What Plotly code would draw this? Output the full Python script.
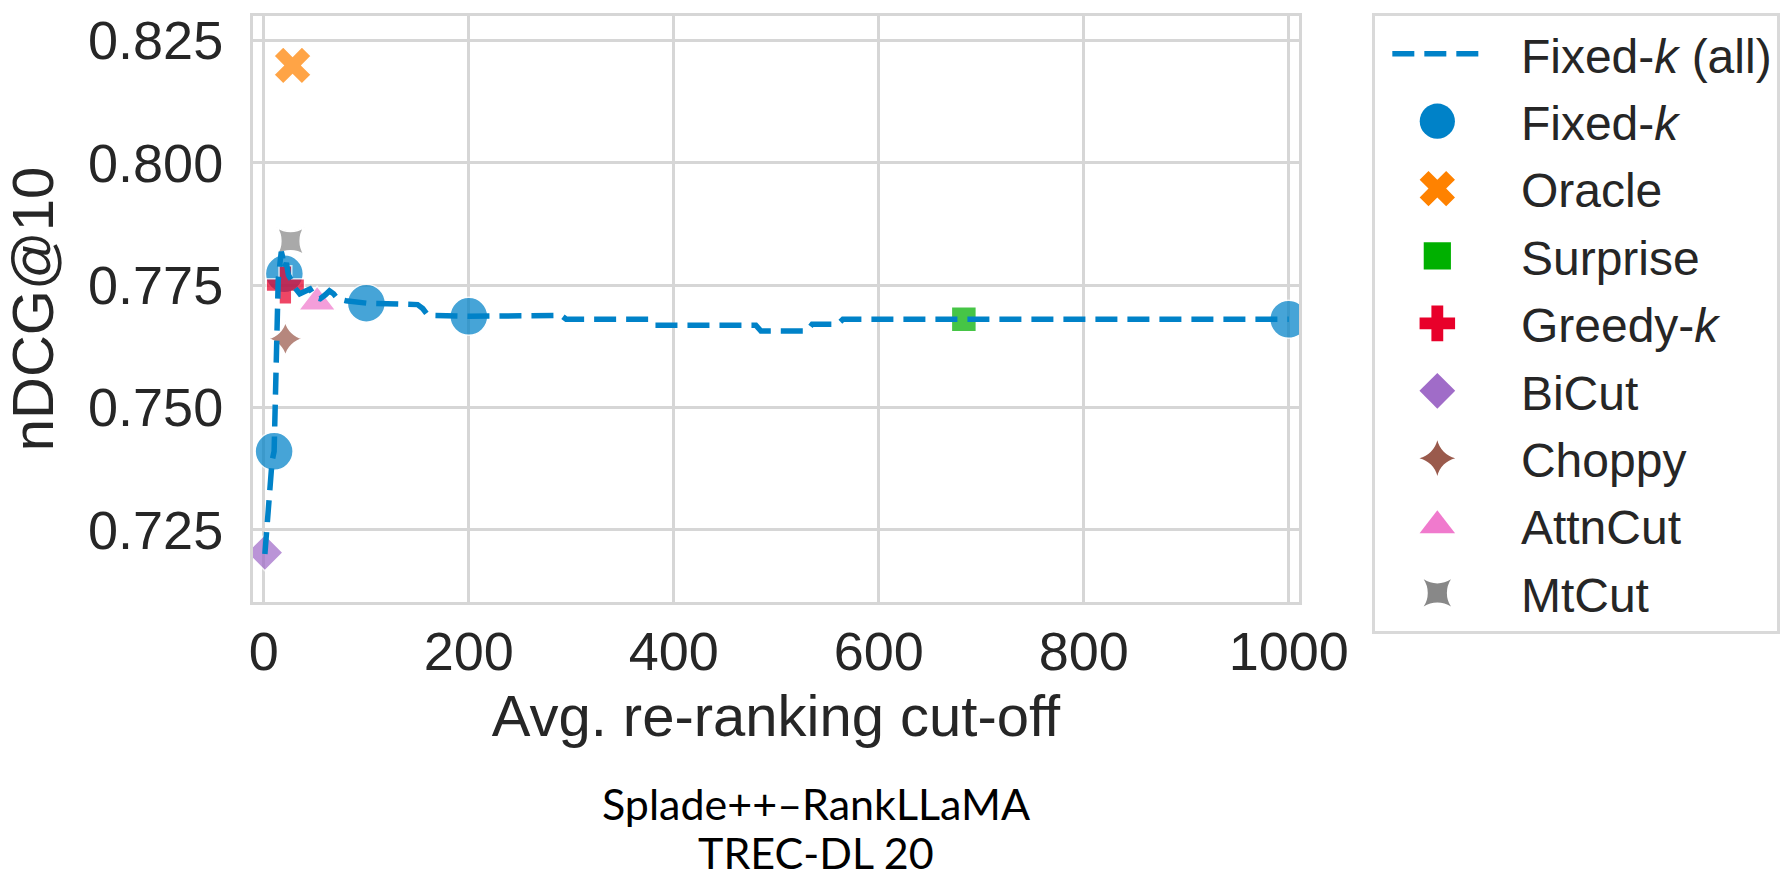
import json
import plotly.graph_objects as go

# Fixed-k sweep over every cut-off (dashed curve)
fixed_all_k = [1, 2, 4, 6, 8, 10, 12, 13, 14, 16, 17, 18, 20, 22, 24, 27, 30, 35, 40, 45,
               50, 55, 60, 64, 68, 72, 80, 100, 150, 155, 160, 200, 290, 295, 375, 380,
               480, 485, 530, 535, 560, 565, 1000]
fixed_all_ndcg = [0.7200, 0.7230, 0.7290, 0.7350, 0.7390, 0.7410, 0.7560, 0.7700, 0.7760,
                  0.7800, 0.7818, 0.7810, 0.7785, 0.7795, 0.7770, 0.7760, 0.7745, 0.7732,
                  0.7738, 0.7742, 0.7725, 0.7722, 0.7730, 0.7738, 0.7732, 0.7722, 0.7718,
                  0.7713, 0.7710, 0.7702, 0.7688, 0.7686, 0.7688, 0.7680, 0.7680, 0.7668,
                  0.7668, 0.7656, 0.7656, 0.7670, 0.7670, 0.7680, 0.7680]

# Selected fixed cut-offs
fixed_k = [10, 20, 100, 200, 1000]
fixed_ndcg = [0.7410, 0.7773, 0.7713, 0.7686, 0.7680]

# Adaptive cut-off methods: (avg. cut-off, nDCG@10)
oracle_k, oracle_ndcg = [28], [0.8199]
surprise_k, surprise_ndcg = [683], [0.7680]
greedy_k, greedy_ndcg = [21], [0.7750]
bicut_k, bicut_ndcg = [1], [0.7203]
choppy_k, choppy_ndcg = [21], [0.7640]
attncut_k, attncut_ndcg = [52], [0.7715]
mtcut_k, mtcut_ndcg = [26], [0.7840]

# Caption lines under the chart
caption_lines = ["Splade++–RankLLaMA", "TREC-DL 20"]

SP = "\u2002\u2009"
FONT = "Liberation Sans, Arial, sans-serif"
TXT = "#262626"
GRID = "#d6d6d6"
ALPHA = 0.72

methods = [
    # name, x, y, color, symbol, size, legend scale
    ("Fixed-<i>k</i>", fixed_k, fixed_ndcg, "#0082c8", "circle", 38, 2.2),
    ("Oracle", oracle_k, oracle_ndcg, "#ff8200", "x", 33, 1.95),
    ("Surprise", surprise_k, surprise_ndcg, "#00b000", "square", 25, 1.7),
    ("Greedy-<i>k</i>", greedy_k, greedy_ndcg, "#e8002a", "cross", 32, 1.85),
    ("BiCut", bicut_k, bicut_ndcg, "#a06cc8", "diamond", 28, 1.72),
    ("Choppy", choppy_k, choppy_ndcg, "#9a5a4c", "star-diamond", 25, 1.6),
    ("AttnCut", attncut_k, attncut_ndcg, "#f07acd", "triangle-up", 32, 1.92),
    ("MtCut", mtcut_k, mtcut_ndcg, "#888888", "star-square", 25, 1.55),
]

fig = go.Figure()
legend_scales = {}
for rank, (name, xs, ys, color, symbol, size, lscale) in enumerate(methods, start=2):
    fig.add_trace(go.Scatter(
        x=xs, y=ys, mode="markers", name=SP + name, legendrank=rank,
        legendgroup="g%d" % rank,
        marker=dict(color=color, symbol=symbol, size=size, opacity=ALPHA,
                    line=dict(color="white", width=1.5)),
    ))
    legend_scales[name.replace("<i>", "").replace("</i>", "")] = lscale

# dashed curve drawn on top of the markers, listed first in the legend
fig.add_trace(go.Scatter(
    x=fixed_all_k, y=fixed_all_ndcg, mode="lines", name=SP + "Fixed-<i>k</i> (all)",
    legendrank=1, legendgroup="g1",
    line=dict(color="#0082c8", width=5.5, dash="22px,10px"),
))

axis_common = dict(
    showgrid=True, gridcolor=GRID, gridwidth=3,
    showline=True, linecolor=GRID, linewidth=3, mirror=True,
    zeroline=False, ticks="",
    tickfont=dict(family=FONT, size=54, color=TXT),
)

fig.update_xaxes(
    range=[-10.6, 1010], tickmode="array", tickvals=[0, 200, 400, 600, 800, 1000],
    title=dict(text="Avg. re-ranking cut-off", font=dict(family=FONT, size=58, color=TXT),
               standoff=16),
    ticklabelstandoff=0, **axis_common,
)
fig.update_yaxes(
    range=[0.7102, 0.8300], tickmode="array",
    tickvals=[0.725, 0.750, 0.775, 0.800, 0.825],
    ticktext=["0.725", "0.750", "0.775", "0.800", "0.825"],
    title=dict(text="nDCG@10", font=dict(family=FONT, size=58, color=TXT), standoff=20),
    ticklabelstandoff=16, **axis_common,
)

caption_font = dict(family="Lato, Open Sans, sans-serif", size=43, color="black")
fig.update_layout(
    width=1790, height=881,
    margin=dict(l=253, r=482, t=10, b=279),
    paper_bgcolor="white", plot_bgcolor="white",
    showlegend=True,
    legend=dict(
        x=1.0701, y=1.005, xanchor="left", yanchor="top",
        bgcolor="white", bordercolor="#d9d9d9", borderwidth=3,
        font=dict(family=FONT, size=48, color=TXT),
        itemwidth=90, indentation=12, itemsizing="trace",
        traceorder="grouped", tracegroupgap=2, maxheight=860,
    ),
    annotations=[
        dict(text=caption_lines[0], showarrow=False, xref="paper", yref="paper",
             x=0.5385, y=-0.3446, xanchor="center", yanchor="middle", font=caption_font),
        dict(text=caption_lines[1], showarrow=False, xref="paper", yref="paper",
             x=0.5385, y=-0.4274, xanchor="center", yanchor="middle", font=caption_font),
    ],
)

# enlarge legend key markers (plotly caps them at 16 px)
post = """
var gd = document.getElementById('{plot_id}');
var scales = %s;
function enlargeKeys() {
  gd.querySelectorAll('.legend .traces').forEach(function(t) {
    var lbl = t.querySelector('.legendtext');
    if (!lbl) return;
    var key = lbl.textContent.trim();
    var s = scales[key];
    if (!s) return;
    t.querySelectorAll('path.scatterpts').forEach(function(p) {
      if (p.dataset.base === undefined) p.dataset.base = p.getAttribute('transform') || '';
      p.setAttribute('transform', p.dataset.base + ' scale(' + s + ')');
      p.style.opacity = 1; p.style.fillOpacity = 1; p.style.strokeWidth = 0;
    });
  });
}
enlargeKeys();
gd.on('plotly_afterplot', enlargeKeys);
""" % json.dumps(legend_scales)

fig.write_html("out.html", post_script=post)
